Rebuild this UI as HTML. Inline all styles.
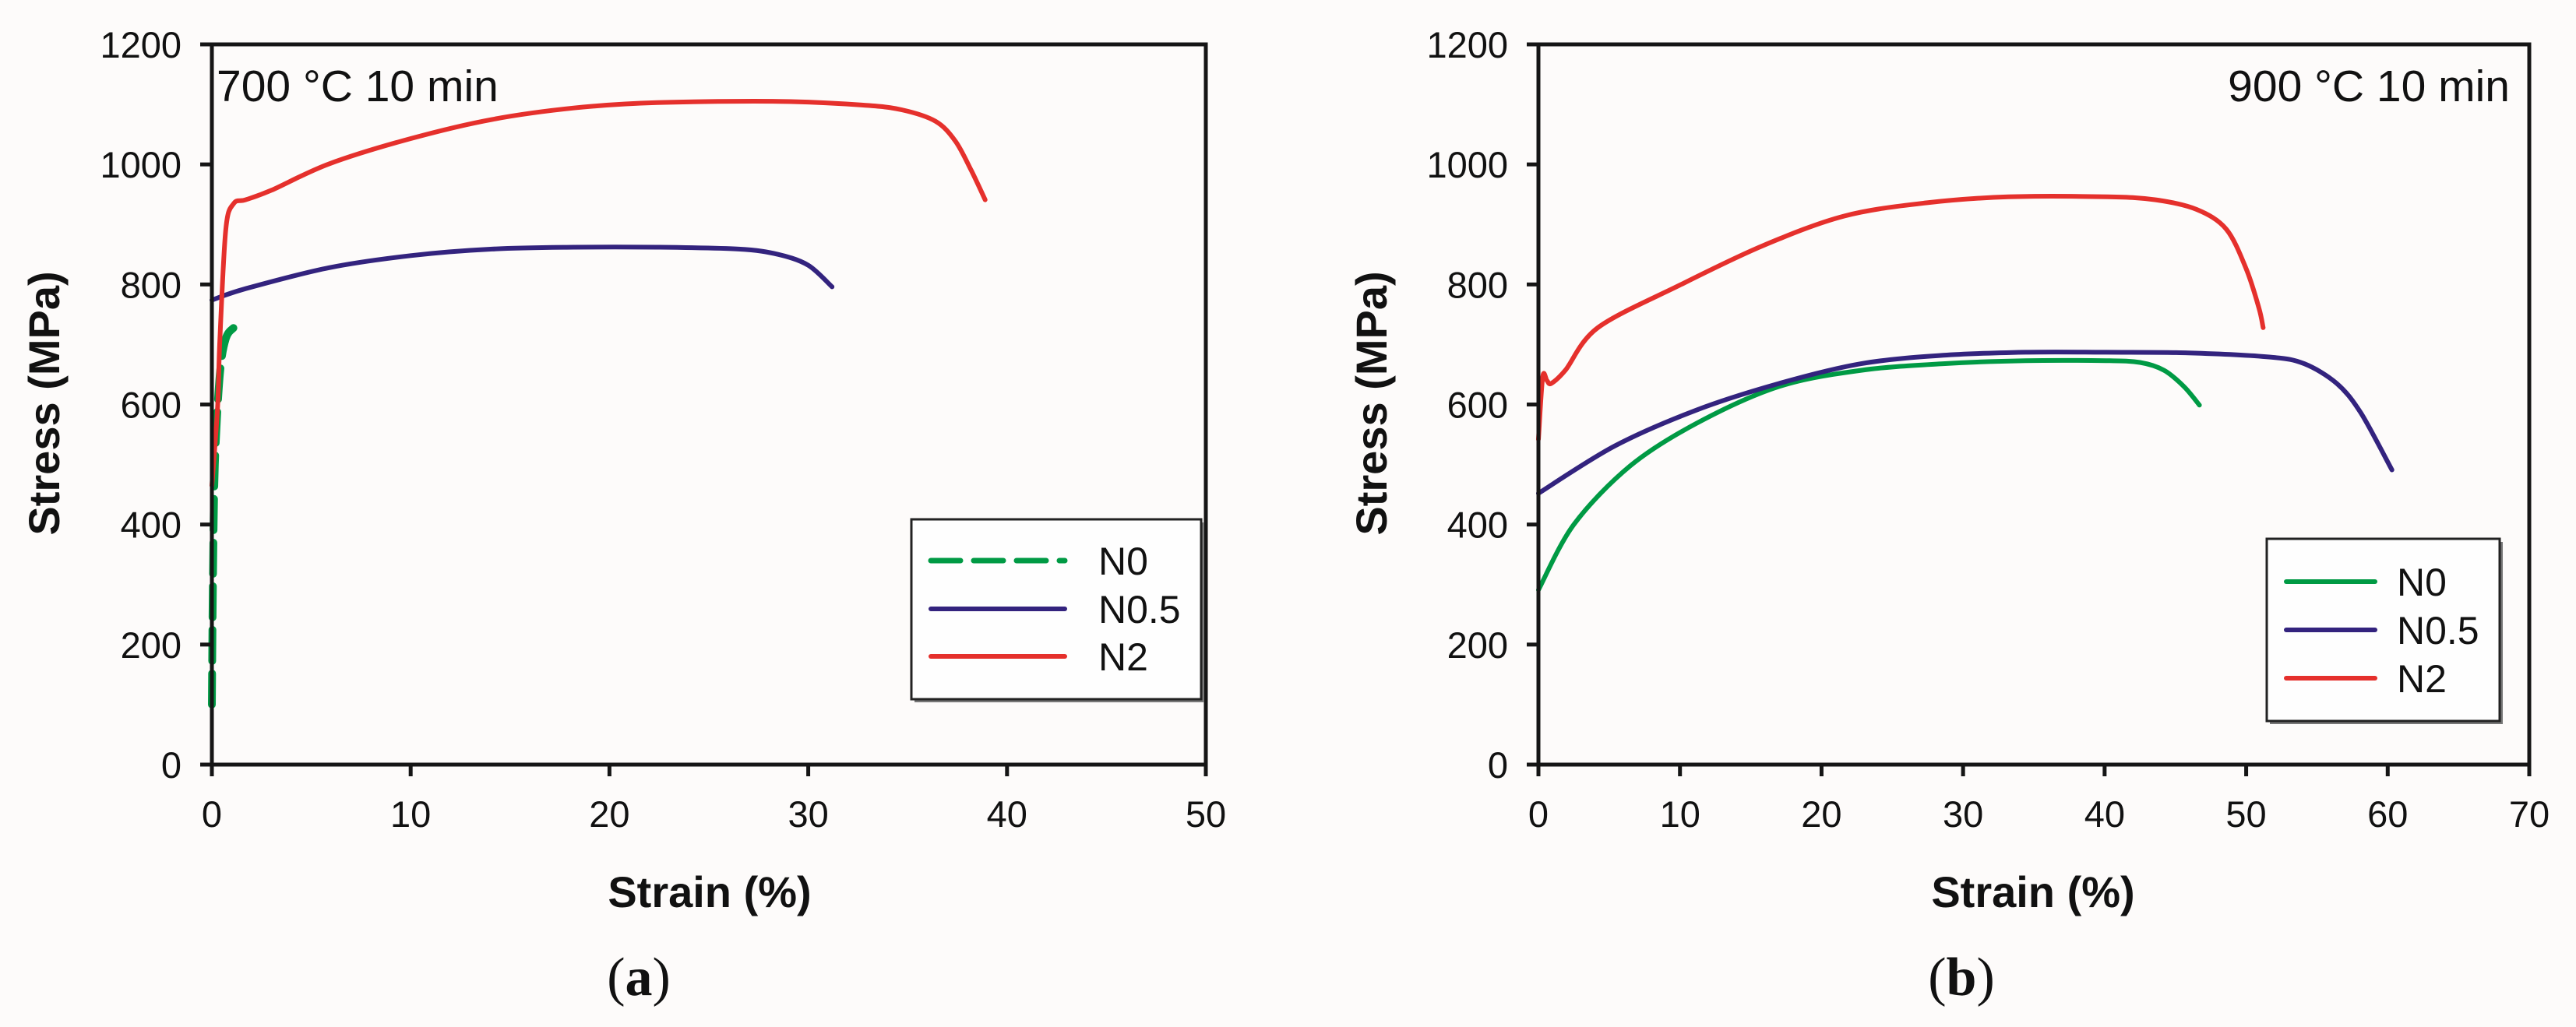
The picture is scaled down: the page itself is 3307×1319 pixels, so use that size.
<!DOCTYPE html>
<html><head><meta charset="utf-8"><style>
html,body{margin:0;padding:0;background:#fdfbfa;}
svg{display:block;}
text{font-family:"Liberation Sans",Arial,sans-serif;fill:#111;}
</style></head><body>
<svg id="fig" width="3307" height="1319" viewBox="0 0 3307 1319" xmlns="http://www.w3.org/2000/svg">
<rect x="0" y="0" width="3307" height="1319" fill="#fdfbfa"/>
</svg>
<script>
// ---- data (a) 700 °C 10 min ----
const aXTicks = [0,10,20,30,40,50];
const aYTicks = [0,200,400,600,800,1000,1200];
const aN0x = [0,0.05,0.15,0.4,0.7,1.1];
const aN0y = [100,300,500,650,710,728];
const aN05x = [0,1.7,5.9,10,14.1,18.2,22.4,26.5,28.5,30,31.2];
const aN05y = [774,793,828,848,859,862,862,859,850,832,796];
const aN2x = [0,0.29,0.4,0.7,1.1,1.7,3,5.9,10,14.1,18.2,22.4,28.5,32.7,34.7,36.4,37.4,38.2,38.9];
const aN2y = [465,597,706,892,935,941,957,1001,1043,1075,1094,1103,1105,1099,1091,1072,1039,990,941];
// ---- data (b) 900 °C 10 min ----
const bXTicks = [0,10,20,30,40,50,60,70];
const bYTicks = [0,200,400,600,800,1000,1200];
const bN0x = [0,2.5,6.5,11.2,17,22.8,28.6,34.4,40.1,42.5,44.2,45.6,46.7];
const bN0y = [291,400,498,569,630,657,668,673,673,670,657,630,599];
const bN05x = [0,5.4,11.2,17,22.8,28.6,34.4,40.1,45.9,51.7,54.1,56.4,58.1,60.3];
const bN05y = [452,531,591,635,668,682,687,687,686,679,668,635,586,491];
const bN2x = [0,0.3,0.6,0.9,1.9,4.2,10,15.8,21.6,27.4,33.2,40.2,43.6,46.5,48.6,50,50.9,51.2];
const bN2y = [542,646,640,635,657,728,799,864,914,936,946,946,941,925,892,826,761,728];

const NS="http://www.w3.org/2000/svg";
const svg=document.getElementById('fig');
function mk(tag,attrs,parent){const e=document.createElementNS(NS,tag);for(const k in attrs)e.setAttribute(k,attrs[k]);(parent||svg).appendChild(e);return e;}
const GREEN="#009a44",BLUE="#33237e",RED="#e5302c";

function smoothPath(P){
  let d='M'+P[0][0].toFixed(1)+','+P[0][1].toFixed(1);
  const k=0.16;
  for(let i=0;i<P.length-1;i++){
    const p0=P[Math.max(0,i-1)],p1=P[i],p2=P[i+1],p3=P[Math.min(P.length-1,i+2)];
    const c1=[p1[0]+(p2[0]-p0[0])*k,p1[1]+(p2[1]-p0[1])*k];
    const c2=[p2[0]-(p3[0]-p1[0])*k,p2[1]-(p3[1]-p1[1])*k];
    d+=' C'+c1.map(v=>v.toFixed(1)).join(',')+' '+c2.map(v=>v.toFixed(1)).join(',')+' '+p2[0].toFixed(1)+','+p2[1].toFixed(1);
  }
  return d;
}

function chart(cfg){
  const g=mk('g',{});
  
  
  const L=cfg.x0,R=cfg.x1,T=57,B=982;
  const sx=v=>L+v/(cfg.xmax)*(R-L);
  const sy=v=>B-v/1200*(B-T);
  cfg.series.forEach(s=>{
    const P=s.x.map((xv,i)=>[sx(xv),sy(s.y[i])]);
    const p=mk('path',{d:smoothPath(P),fill:'none',stroke:s.color,'stroke-width':s.dash?10:6,'stroke-linejoin':'round','stroke-linecap':'round'},g);
    if(s.dash)p.setAttribute('stroke-dasharray','40 16');
    
    
  });
  const fr=mk('rect',{x:L,y:T,width:R-L,height:B-T,fill:'none',stroke:'#151515','stroke-width':5},g);
  
  
  cfg.xt.forEach(v=>{
    const t=mk('line',{x1:sx(v),x2:sx(v),y1:B,y2:B+15,stroke:'#151515','stroke-width':5},g);
    
    
    const l=mk('text',{x:sx(v),y:1062,'font-size':47,'text-anchor':'middle'},g);l.textContent=v;
    
    
  });
  cfg.yt.forEach(v=>{
    const t=mk('line',{x1:L-15,x2:L,y1:sy(v),y2:sy(v),stroke:'#151515','stroke-width':5},g);
    
    
    const l=mk('text',{x:L-39,y:sy(v)+17,'font-size':47,'text-anchor':'end'},g);l.textContent=v;
    
    
  });
  const xt=mk('text',{x:cfg.xtx,y:1165,'font-size':56,'font-weight':'bold','text-anchor':'middle'},g);xt.textContent='Strain (%)';
  
  
  const yt=mk('text',{x:0,y:0,'font-size':56,'font-weight':'bold','text-anchor':'middle',transform:`translate(${cfg.ytx},518) rotate(-90)`},g);yt.textContent='Stress (MPa)';
  
  
  const ti=mk('text',{x:cfg.tx,y:130,'font-size':57,'text-anchor':cfg.ta},g);ti.textContent=cfg.title;
  
  
  const pl=mk('text',{x:cfg.plx,y:1278,'font-size':70,'text-anchor':'middle','style':'font-family:"Liberation Serif",serif'},g);
  pl.innerHTML='(<tspan font-weight="bold">'+cfg.panel+'</tspan>)';
  
  
  const lg=mk('g',{},g);
  
  
  const lb=cfg.leg;
  mk('rect',{x:lb.x+4,y:lb.y+4,width:lb.w,height:lb.h,fill:'#777'},lg);
  mk('rect',{x:lb.x,y:lb.y,width:lb.w,height:lb.h,fill:'#fefefe',stroke:'#222','stroke-width':3},lg);
  cfg.series.forEach((s,i)=>{
    const ey=lb.ey[i];
    const e=mk('g',{},lg);
    
    
    const ln=mk('line',{x1:lb.lx1,x2:lb.lx2,y1:ey,y2:ey,stroke:s.color,'stroke-width':s.dash?7:6,'stroke-linecap':'round'},e);
    if(s.dash)ln.setAttribute('stroke-dasharray','38 17');
    const tx=mk('text',{x:lb.tx,y:ey+18,'font-size':50},e);tx.textContent=s.label;
  });
}
chart({name:'chart-700C',x0:272,x1:1548,xmax:50,xt:aXTicks,yt:aYTicks,xtx:911,ytx:76,tx:278,ta:'start',title:'700 °C 10 min',panel:'a',plx:820,
  leg:{x:1170,y:667,w:372,h:231,ey:[720,782,843],lx1:1195,lx2:1367,tx:1410},
  series:[{id:'series-n0',label:'N0',x:aN0x,y:aN0y,color:GREEN,dash:true},{id:'series-n0-5',label:'N0.5',x:aN05x,y:aN05y,color:BLUE},{id:'series-n2',label:'N2',x:aN2x,y:aN2y,color:RED}]});
chart({name:'chart-900C',x0:1975,x1:3247,xmax:70,xt:bXTicks,yt:bYTicks,xtx:2610,ytx:1780,tx:3222,ta:'end',title:'900 °C 10 min',panel:'b',plx:2518,
  leg:{x:2910,y:692,w:299,h:234,ey:[747,809,871],lx1:2935,lx2:3049,tx:3077},
  series:[{id:'series-n0',label:'N0',x:bN0x,y:bN0y,color:GREEN},{id:'series-n0-5',label:'N0.5',x:bN05x,y:bN05y,color:BLUE},{id:'series-n2',label:'N2',x:bN2x,y:bN2y,color:RED}]});
</script>
</body></html>
